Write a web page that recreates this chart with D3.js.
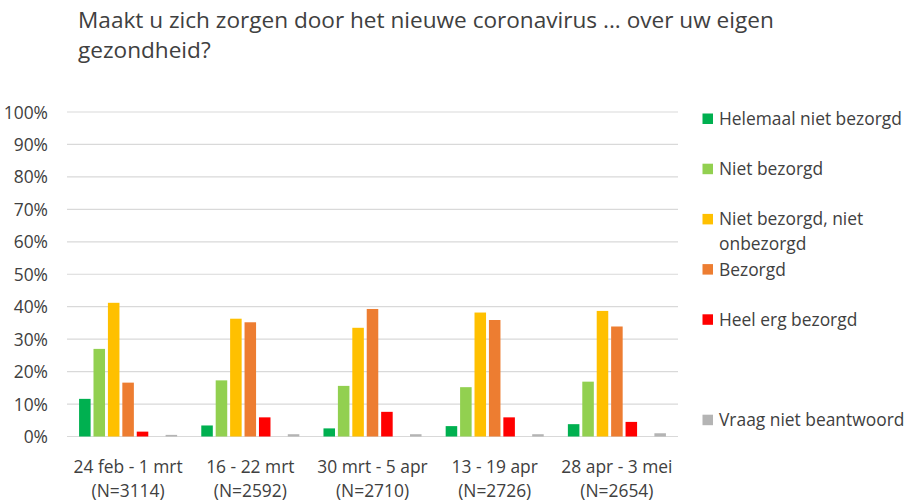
<!DOCTYPE html>
<html><head><meta charset="utf-8">
<script src="https://cdn.jsdelivr.net/npm/d3@7"></script>
<style>body{margin:0;background:#fff;} text{font-family:"Open Sans", sans-serif;fill:#404040;}</style>
</head><body><svg id="c" width="913" height="504"></svg>
<script>
const titleLines = ["Maakt u zich zorgen door het nieuwe coronavirus ... over uw eigen", "gezondheid?"];
const categories = ["24 feb - 1 mrt|(N=3114)", "16 - 22 mrt|(N=2592)", "30 mrt - 5 apr|(N=2710)", "13 - 19 apr|(N=2726)", "28 apr - 3 mei|(N=2654)"];
const seriesNames = ["Helemaal niet bezorgd", "Niet bezorgd", "Niet bezorgd, niet onbezorgd", "Bezorgd", "Heel erg bezorgd", "", "Vraag niet beantwoord"];
const seriesColors = ["#00b050", "#92d050", "#ffc000", "#ed7d31", "#ff0000", "none", "#b4b4b4"];
const helemaalNiet = [11.6, 3.4, 2.5, 3.2, 3.8];
const nietBezorgd = [27.0, 17.3, 15.6, 15.2, 16.9];
const neutraal = [41.2, 36.3, 33.5, 38.2, 38.7];
const bezorgd = [16.6, 35.2, 39.3, 35.9, 33.9];
const heelErg = [1.5, 5.9, 7.6, 5.9, 4.5];
const leeg = [null, null, null, null, null];
const nietBeantwoord = [0.5, 0.7, 0.7, 0.7, 1.0];
const yTicks = [0, 10, 20, 30, 40, 50, 60, 70, 80, 90, 100];
const legendLines = [["Helemaal niet bezorgd"], ["Niet bezorgd"], ["Niet bezorgd, niet", "onbezorgd"], ["Bezorgd"], ["Heel erg bezorgd"], [""], ["Vraag niet beantwoord"]];

const seriesValues = [helemaalNiet, nietBezorgd, neutraal, bezorgd, heelErg, leeg, nietBeantwoord];
const svg = d3.select("#c");
const L = 67, R = 678, T = 112, B = 436.5;
const FS = 17.4;
const x0 = d3.scaleBand().domain(categories).range([L, R]);
const gw = x0.bandwidth();
const inner = gw * 0.826;
const x1 = d3.scaleBand().domain(d3.range(7)).range([(gw - inner) / 2, (gw + inner) / 2]).paddingInner(0.2).paddingOuter(0.1);
const y = d3.scaleLinear().domain([0, 100]).range([B, T]);

// grid
svg.append("g").selectAll("line").data(yTicks).join("line")
  .attr("x1", L).attr("x2", R).attr("y1", d => y(d)).attr("y2", d => y(d))
  .attr("stroke", "#d9d9d9").attr("stroke-width", 1.2);

// y axis labels
const yAxis = d3.axisLeft(y).tickValues(yTicks).tickFormat(d => d + "%").tickSize(0).tickPadding(0);
const ya = svg.append("g").attr("transform", "translate(48,0)").call(yAxis);
ya.select(".domain").remove();
ya.selectAll("text").attr("font-size", FS).attr("fill", "#404040").style("font-family", "'Open Sans', sans-serif").attr("dy", "0.35em");

// bars
const g = svg.append("g");
categories.forEach((c, ci) => {
  seriesValues.forEach((vals, si) => {
    const v = vals[ci];
    if (v == null) return;
    g.append("rect")
      .attr("x", x0(c) + x1(si)).attr("width", x1.bandwidth())
      .attr("y", y(v)).attr("height", y(0) - y(v))
      .attr("fill", seriesColors[si]);
  });
});

// x axis labels
const xAxis = d3.axisBottom(x0).tickSize(0).tickPadding(0).tickFormat(() => "");
const xa = svg.append("g").attr("transform", `translate(0,${B})`).call(xAxis);
xa.select(".domain").remove();
xa.selectAll(".tick").each(function(d) {
  const parts = d.split("|");
  const t = d3.select(this);
  t.selectAll("text").remove();
  parts.forEach((p, i) => {
    t.append("text").attr("y", 36 + i * 24).attr("text-anchor", "middle")
      .attr("font-size", FS).attr("fill", "#404040").text(p);
  });
});

// title
titleLines.forEach((t, i) => {
  svg.append("text").attr("x", 78).attr("y", 28 + i * 30).attr("font-size", 22.6).attr("fill", "#262626").text(t);
});

// legend
const leg = svg.append("g");
legendLines.forEach((lines, i) => {
  const cy = 119 + i * 50.2;
  if (seriesColors[i] === "none") return;
  leg.append("rect").attr("x", 702.5).attr("y", cy - 5.5).attr("width", 10.5).attr("height", 10.5).attr("fill", seriesColors[i]);
  lines.forEach((ln, j) => {
    leg.append("text").attr("x", 719).attr("y", cy + 6 + j * 25).attr("font-size", FS).attr("fill", "#404040").text(ln);
  });
});
</script></body></html>
